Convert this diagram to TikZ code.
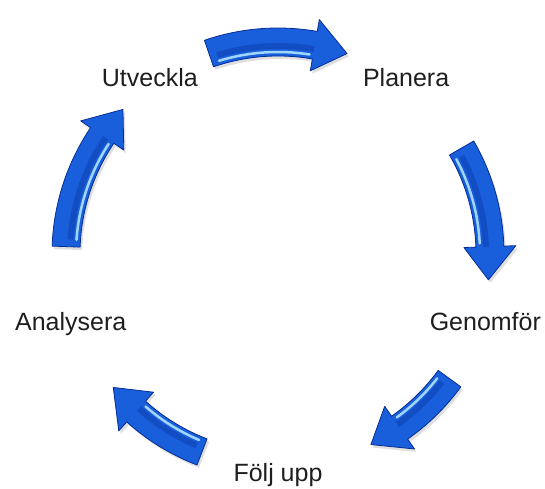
\documentclass[tikz,border=0pt]{standalone}
\usepackage{fontspec}
\setmainfont{Liberation Sans}
\usetikzlibrary{shadows}

\definecolor{arrowblue}{RGB}{25,95,220}
\definecolor{arrowdark}{RGB}{5,45,150}
\definecolor{arrowlight}{RGB}{175,228,255}
\definecolor{labelgray}{RGB}{30,30,30}

\begin{document}
\begin{tikzpicture}[x=1pt, y=1pt,
        Label/.style={font=\fontsize{25}{30}\selectfont, text=labelgray, text height=18pt, text depth=0pt, inner sep=0pt, anchor=center},
        CycleArrow/.style={fill=arrowblue, draw=arrowdark, line width=0.8pt, line join=round, drop shadow={shadow xshift=2pt, shadow yshift=-3pt, opacity=0.25}},
        Shade/.style={draw=arrowdark, line width=6pt, opacity=0.35},
        Gloss/.style={draw=arrowlight, line width=2.5pt, line cap=round, opacity=0.9}
    ]
    \useasboundingbox (-278,-234) rectangle (267,254);

    % Labels round the cycle
    \node (Plan) [Label] at (54:218pt) {Planera};
    \node (Genom) [Label] at (342:218pt) {Genomför};
    \node (Folj) [Label] at (270:218pt) {Följ upp};
    \node (Analys) [Label] at (198:218pt) {Analysera};
    \node (Utv) [Label] at (126:218pt) {Utveckla};

    % Bent arrows, clockwise, tail angle / tip angle
    \foreach \tail/\tip in {109/71, 30/-7, -36/-64, 249/219, 178/137} {
        \pgfmathsetmacro\base{\tip+9}
        \path[CycleArrow] (\tail:226pt) arc[start angle=\tail, end angle=\base, radius=226pt]
            -- (\base:238pt) -- (\tip:212pt) -- (\base:186pt) -- (\base:198pt)
            arc[start angle=\base, end angle=\tail, radius=198pt] -- cycle;
        \pgfmathsetmacro\glossa{\tail-2}
        \pgfmathsetmacro\glossb{\base+1}
        \draw[Shade] (\glossa:208pt) arc[start angle=\glossa, end angle=\base, radius=208pt];
        \draw[Gloss] (\glossa:202pt) arc[start angle=\glossa, end angle=\glossb, radius=202pt];
    }

\end{tikzpicture}
\end{document}
